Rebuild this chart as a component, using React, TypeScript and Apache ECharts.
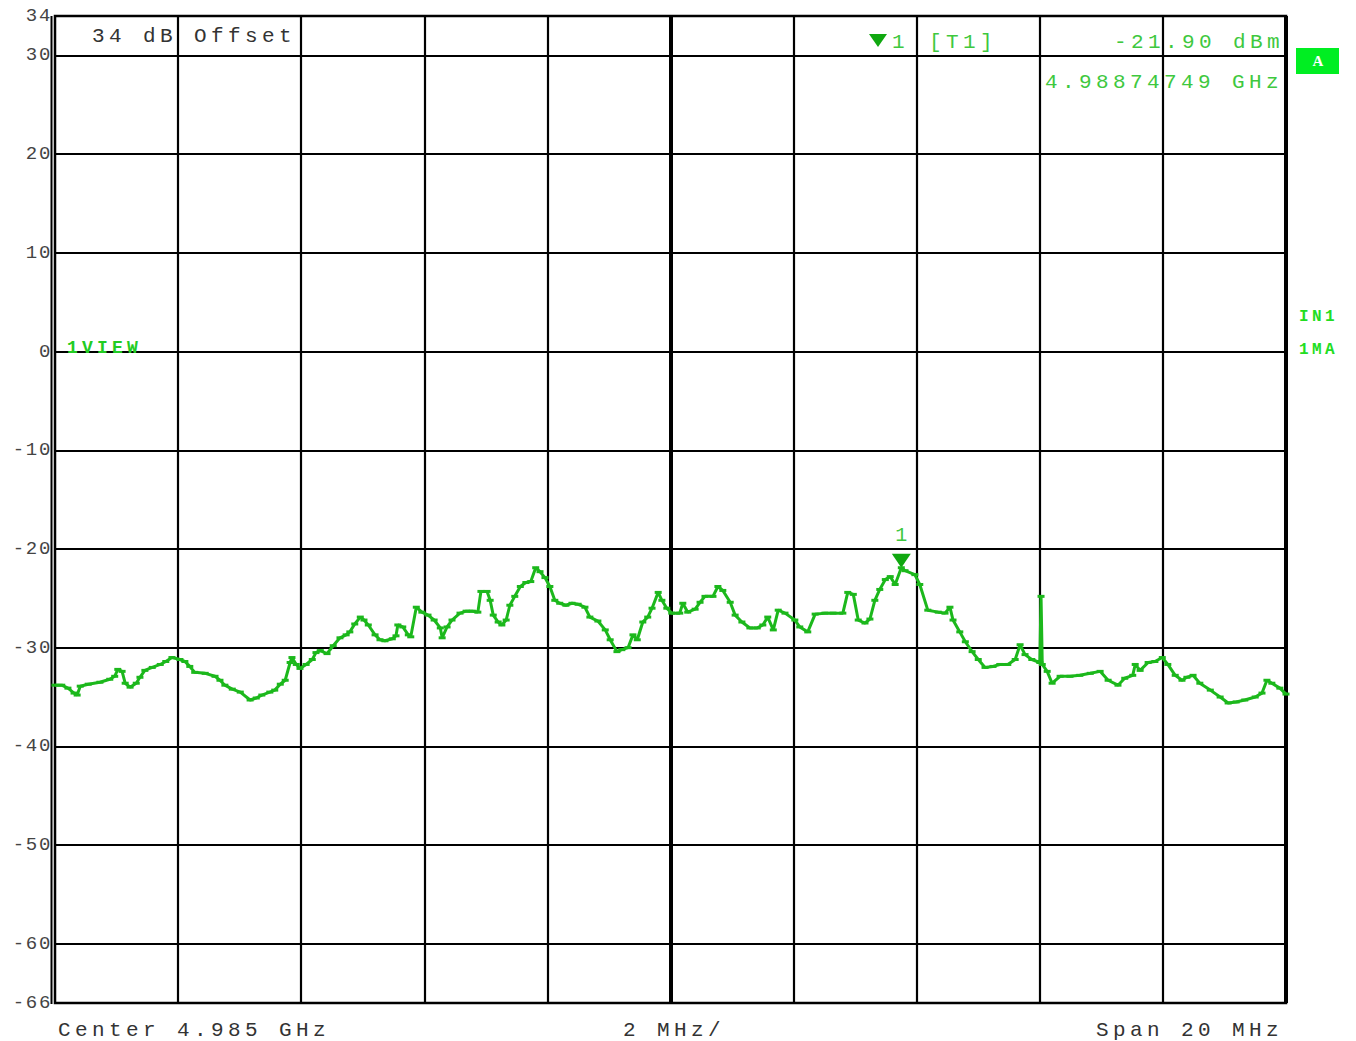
import React, { useEffect, useRef } from "react";
import * as echarts from "echarts";

// Frequency (MHz) and level (dBm) of the trace
const freqMHz = [
  4975.0, 4975.11, 4975.21, 4975.31, 4975.36, 4975.41, 4975.54, 4975.73, 4975.89, 4975.97,
  4976.02, 4976.09, 4976.14, 4976.22, 4976.32, 4976.38, 4976.46, 4976.58, 4976.71, 4976.8,
  4976.9, 4977.03, 4977.11, 4977.19, 4977.27, 4977.44, 4977.6, 4977.68, 4977.76, 4977.88,
  4978.01, 4978.17, 4978.27, 4978.36, 4978.49, 4978.57, 4978.66, 4978.74, 4978.82, 4978.85,
  4978.92, 4978.98, 4979.08, 4979.18, 4979.24, 4979.31, 4979.42, 4979.52, 4979.63, 4979.73,
  4979.79, 4979.87, 4979.96, 4980.02, 4980.09, 4980.2, 4980.28, 4980.36, 4980.48, 4980.54,
  4980.57, 4980.65, 4980.74, 4980.78, 4980.87, 4980.96, 4981.06, 4981.16, 4981.26, 4981.29,
  4981.37, 4981.45, 4981.58, 4981.68, 4981.78, 4981.87, 4981.92, 4982.02, 4982.07, 4982.12,
  4982.2, 4982.26, 4982.33, 4982.39, 4982.47, 4982.56, 4982.65, 4982.73, 4982.81, 4982.88,
  4982.96, 4983.04, 4983.12, 4983.2, 4983.3, 4983.4, 4983.5, 4983.61, 4983.69, 4983.82,
  4983.94, 4984.02, 4984.13, 4984.21, 4984.31, 4984.39, 4984.46, 4984.55, 4984.63, 4984.7,
  4984.8, 4984.86, 4984.94, 4985.02, 4985.15, 4985.2, 4985.28, 4985.4, 4985.48, 4985.56,
  4985.69, 4985.77, 4985.85, 4985.97, 4986.05, 4986.16, 4986.29, 4986.41, 4986.5, 4986.58,
  4986.67, 4986.75, 4986.86, 4987.02, 4987.1, 4987.23, 4987.35, 4987.51, 4987.64, 4987.8,
  4987.88, 4987.97, 4988.05, 4988.16, 4988.24, 4988.32, 4988.4, 4988.49, 4988.57, 4988.65,
  4988.75, 4988.81, 4988.97, 4989.05, 4989.18, 4989.35, 4989.46, 4989.54, 4989.59, 4989.7,
  4989.79, 4989.9, 4990.0, 4990.11, 4990.24, 4990.35, 4990.48, 4990.6, 4990.68, 4990.76,
  4990.87, 4991.0, 4991.02, 4991.04, 4991.12, 4991.2, 4991.33, 4991.49, 4991.65, 4991.82,
  4991.98, 4992.11, 4992.27, 4992.38, 4992.51, 4992.55, 4992.63, 4992.76, 4992.87, 4992.99,
  4993.08, 4993.2, 4993.31, 4993.39, 4993.49, 4993.6, 4993.77, 4993.93, 4994.06, 4994.19,
  4994.33, 4994.5, 4994.61, 4994.69, 4994.77, 4994.9, 4995.0,
];

const levelDbm = [
  -33.8, -33.8, -34.1, -34.6, -34.8, -33.9, -33.7, -33.5, -33.2, -32.9,
  -32.2, -32.4, -33.6, -34.0, -33.6, -33.0, -32.3, -32.0, -31.7, -31.4,
  -31.0, -31.2, -31.4, -31.9, -32.5, -32.6, -32.9, -33.3, -33.8, -34.2,
  -34.5, -35.3, -35.1, -34.8, -34.5, -34.3, -33.7, -33.3, -31.5, -31.0,
  -31.7, -32.1, -31.7, -31.2, -30.5, -30.3, -30.6, -29.8, -29.0, -28.7,
  -28.4, -27.6, -26.9, -27.2, -27.7, -28.7, -29.2, -29.3, -29.1, -28.8,
  -27.7, -27.9, -28.7, -28.9, -25.9, -26.4, -26.7, -27.2, -28.0, -29.0,
  -27.9, -27.2, -26.5, -26.3, -26.3, -26.4, -24.3, -24.3, -25.2, -26.7,
  -27.4, -27.7, -27.2, -25.7, -24.8, -23.8, -23.4, -23.3, -21.9, -22.3,
  -22.9, -23.8, -25.2, -25.5, -25.7, -25.5, -25.6, -25.9, -26.9, -27.3,
  -28.2, -29.2, -30.4, -30.2, -30.0, -28.7, -29.2, -27.4, -26.9, -26.0,
  -24.4, -25.2, -26.0, -26.5, -26.5, -25.5, -26.4, -26.1, -25.4, -24.8,
  -24.8, -23.8, -24.2, -25.4, -26.7, -27.4, -28.0, -28.0, -27.7, -26.9,
  -28.2, -26.2, -26.5, -27.2, -27.9, -28.4, -26.6, -26.5, -26.5, -26.5,
  -24.4, -24.6, -27.2, -27.5, -27.1, -25.2, -24.1, -23.1, -22.8, -23.6,
  -21.9, -22.2, -22.6, -23.6, -26.2, -26.4, -26.5, -25.9, -27.2, -28.4,
  -29.4, -30.4, -31.2, -32.0, -31.9, -31.7, -31.7, -31.2, -29.7, -30.7,
  -31.2, -31.5, -24.8, -31.7, -32.4, -33.6, -32.9, -32.9, -32.8, -32.6,
  -32.4, -33.3, -33.8, -33.1, -32.8, -31.7, -32.3, -31.5, -31.4, -31.0,
  -31.7, -32.8, -33.3, -33.0, -32.8, -33.6, -34.3, -35.0, -35.6, -35.5,
  -35.3, -35.0, -34.6, -33.3, -33.6, -34.1, -34.7,
];

const yTickValues = [34, 30, 20, 10, 0, -10, -20, -30, -40, -50, -60, -66];
const hGridValues = [30, 20, 10, 0, -10, -20, -30, -40, -50, -60];
const vGridValues = [4977, 4979, 4981, 4983, 4985, 4987, 4989, 4991, 4993, 4995];
const freqMin = 4975;
const freqMax = 4995;
const levelMin = -66;
const levelMax = 34;

const markerFreq = 4988.75;
const markerLevel = -21.9;
const markerLabel = "1";

const headerOffset = "34 dB Offset";
const headerMarker = "[T1]";
const headerMarkerIndex = "1";
const headerLevel = "-21.90 dBm";
const headerFreq = "4.98874749 GHz";
const footerCenter = "Center 4.985 GHz";
const footerDiv = "2 MHz/";
const footerSpan = "Span 20 MHz";

const MONO = "'Liberation Mono', 'DejaVu Sans Mono', monospace";
const TRACE = "#1cb81c";
const TEXT_GREEN = "#3ec83e";

// letter spacing per font size (px) to mimic the instrument's wide type
const spacingBySize: Record<string, number> = { "21": 4.4, "19": 1.7, "16": 3.4, "18": 4.2 };

export default function App() {
  const ref = useRef<HTMLDivElement>(null);

  useEffect(() => {
    if (!ref.current) return;
    const el = ref.current;
    const chart = echarts.init(el, null, { renderer: "svg" });

    const textStyle = (text: string, x: number, y: number, size: number, color: string, weight = "normal", family = MONO) => ({
      type: "text",
      x,
      y,
      silent: true,
      z: 10,
      style: {
        text,
        fill: color,
        font: `${weight} ${size}px ${family}`,
        textAlign: "left",
        textVerticalAlign: "middle",
      },
    });

    const option: any = {
      animation: false,
      backgroundColor: "#ffffff",
      grid: {
        left: 55,
        right: 70,
        top: 16,
        bottom: 38,
        show: true,
        borderColor: "#000",
        borderWidth: 2.5,
      },
      xAxis: {
        type: "value",
        min: freqMin,
        max: freqMax,
        axisLabel: { show: false },
        axisTick: { show: false },
        axisLine: { show: false },
        splitLine: { show: false },
      },
      yAxis: {
        type: "value",
        min: levelMin,
        max: levelMax,
        axisLine: { show: false },
        axisTick: { show: false },
        splitLine: { show: false },
        axisLabel: {
          customValues: yTickValues,
          color: "#444",
          fontFamily: MONO,
          fontSize: 19,
          margin: 3,
          verticalAlign: "middle",
          padding: [0, 0, 7, 0],
        },
      },
      series: [
        {
          type: "line",
          name: "grid",
          data: [[freqMin, levelMin]],
          showSymbol: false,
          symbol: "none",
          lineStyle: { opacity: 0 },
          silent: true,
          z: 1,
          markLine: {
            silent: true,
            symbol: ["none", "none"],
            label: { show: false },
            lineStyle: { color: "#000", width: 2.2, type: "solid" },
            data: [
              ...hGridValues.map((v) => ({ yAxis: v })),
              ...vGridValues.map((v) => ({
                xAxis: v,
                lineStyle: { color: "#000", type: "solid", width: v === 4985 ? 4 : v === 4995 ? 4 : 2.2 },
              })),
            ],
          },
        },
        {
          type: "line",
          name: "trace",
          data: freqMHz.map((f, i) => [f, levelDbm[i]]),
          showSymbol: true,
          symbol: "rect",
          symbolSize: [7, 3],
          itemStyle: { color: TRACE },
          lineStyle: { color: TRACE, width: 3 },
          silent: true,
          z: 5,
          markPoint: {
            silent: true,
            symbol: "triangle",
            symbolRotate: 180,
            symbolSize: [19, 14],
            symbolOffset: [0, -7],
            itemStyle: { color: "#10a810" },
            label: {
              show: true,
              position: "top",
              distance: 8,
              formatter: markerLabel,
              color: TEXT_GREEN,
              fontFamily: MONO,
              fontSize: 20,
            },
            data: [{ coord: [markerFreq, markerLevel] }],
          },
        },
      ],
      graphic: [
        // doubled left frame line
        { type: "line", silent: true, shape: { x1: 51.5, y1: 16, x2: 51.5, y2: 1004 }, style: { stroke: "#000", lineWidth: 2 } },
        textStyle(headerOffset, 92, 36, 21, "#333"),
        { type: "polygon", silent: true, z: 10, shape: { points: [[869, 34], [887, 34], [878, 47]] }, style: { fill: "#10a810" } },
        textStyle(headerMarkerIndex, 892, 42, 21, TEXT_GREEN),
        textStyle(headerMarker, 929, 42, 21, TEXT_GREEN),
        textStyle(headerLevel, 1114, 42, 21, TEXT_GREEN),
        textStyle(headerFreq, 1045, 82, 21, TEXT_GREEN),
        { type: "rect", silent: true, z: 10, shape: { x: 1296, y: 48, width: 43, height: 26 }, style: { fill: "#00ee22" } },
        {
          type: "text",
          silent: true,
          z: 11,
          x: 1318,
          y: 61,
          style: { text: "A", fill: "#fff", font: "bold 15px 'Liberation Serif', serif", textAlign: "center", textVerticalAlign: "middle" },
        },
        textStyle("IN1", 1299, 317, 16, "#22dd22", "bold"),
        textStyle("1MA", 1299, 350, 16, "#22dd22", "bold"),
        textStyle("1VIEW", 67, 348, 18, "#22cc22", "bold"),
        textStyle(footerCenter, 58, 1030, 21, "#333"),
        textStyle(footerDiv, 623, 1030, 21, "#333"),
        textStyle(footerSpan, 1096, 1030, 21, "#333"),
      ],
    };

    chart.setOption(option);

    const applySpacing = () => {
      el.querySelectorAll("text").forEach((t) => {
        const fs = parseFloat(getComputedStyle(t).fontSize);
        const key = String(Math.round(fs));
        const sp = spacingBySize[key];
        if (sp) (t as SVGTextElement).style.letterSpacing = `${sp}px`;
      });
    };
    applySpacing();
    chart.on("finished", applySpacing);

    return () => {
      chart.dispose();
    };
  }, []);

  return (
    <div
      ref={ref}
      style={{ position: "fixed", left: 0, top: 0, width: 1356, height: 1041, background: "#fff" }}
    />
  );
}
